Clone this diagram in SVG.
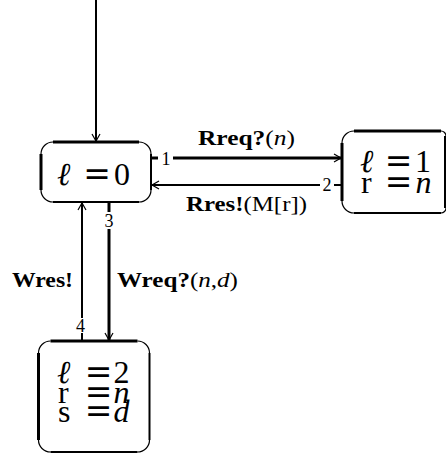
<svg xmlns="http://www.w3.org/2000/svg" width="446" height="454" viewBox="0 0 446 454">
<style>
.m{font-family:"Liberation Serif","DejaVu Serif",serif;font-size:32px;fill:#000}
.eq{font-family:"DejaVu Serif","Liberation Serif",serif;font-size:33px;fill:#000;text-anchor:middle}
.it{font-style:italic}
.lb{font-family:"Liberation Serif","DejaVu Serif",serif;font-size:20px;fill:#000}
.b{font-weight:bold}
.num{font-family:"Liberation Serif","DejaVu Serif",serif;font-size:18px;fill:#000;text-anchor:middle}
.thin{fill:none;stroke:#000;stroke-width:1.2}
.s3{stroke:#000;stroke-width:3;fill:none}
.s2{stroke:#000;stroke-width:2;fill:none}
</style>
<defs>
<marker id="ah" markerUnits="userSpaceOnUse" markerWidth="12" markerHeight="12" refX="8" refY="5" orient="auto">
<path d="M1,1 L8,5 L1,9" fill="none" stroke="#000" stroke-width="1.2"/>
</marker>
</defs>

<g id="n0">
<path class="thin" d="M41,154 A12,12 0 0 1 53,142 M139,142 A12,12 0 0 1 151,154 M151,190 A12,12 0 0 1 139,202 M53,202 A12,12 0 0 1 41,190"/>
<line class="s3" x1="53" y1="142" x2="139" y2="142"/>
<line class="s3" x1="41" y1="154" x2="41" y2="190"/>
<line class="s2" x1="151" y1="154" x2="151" y2="190"/>
<line class="s2" x1="53" y1="202" x2="139" y2="202"/>
<text class="m it" x="57" y="185">ℓ</text>
<text class="eq" x="97" y="185">=</text>
<text class="m" x="122" y="185" text-anchor="middle">0</text>
</g>

<g id="n1">
<path class="thin" d="M342,143 A12,12 0 0 1 354,131 M441,131 A5,5 0 0 1 446,136 M446,208 A5,5 0 0 1 441,213 M354,213 A12,12 0 0 1 342,201"/>
<line class="s3" x1="354" y1="131" x2="441" y2="131"/>
<line class="s3" x1="342" y1="143" x2="342" y2="201"/>
<line class="s2" x1="445" y1="136" x2="445" y2="208"/>
<line class="s2" x1="354" y1="213" x2="441" y2="213"/>
<text class="m it" x="360" y="172">ℓ</text>
<text class="eq" x="398.5" y="172">=</text>
<text class="m" x="423" y="172" text-anchor="middle">1</text>
<text class="m" x="361" y="193">r</text>
<text class="eq" x="398.5" y="193">=</text>
<text class="m it" x="423.5" y="193" text-anchor="middle">n</text>
</g>

<g id="n2">
<path class="thin" d="M38.5,353 A12,12 0 0 1 50.5,341 M137.5,341 A12,12 0 0 1 149.5,353 M149.5,440 A12,12 0 0 1 137.5,452 M50.5,452 A12,12 0 0 1 38.5,440"/>
<line class="s3" x1="50.5" y1="341" x2="137.5" y2="341"/>
<line class="s3" x1="38.5" y1="353" x2="38.5" y2="440"/>
<line class="s2" x1="149.5" y1="353" x2="149.5" y2="440"/>
<line class="s2" x1="50.5" y1="452" x2="137.5" y2="452"/>
<text class="m it" x="57" y="383">ℓ</text>
<text class="eq" x="98.5" y="383">=</text>
<text class="m" x="121.5" y="383" text-anchor="middle">2</text>
<text class="m" x="58" y="403">r</text>
<text class="eq" x="98.5" y="403">=</text>
<text class="m it" x="121.5" y="403" text-anchor="middle">n</text>
<text class="m" x="58" y="422">s</text>
<text class="eq" x="98.5" y="422">=</text>
<text class="m it" x="121.5" y="422" text-anchor="middle">d</text>
</g>

<g id="connectors">
<line class="s2" x1="96" y1="0" x2="96" y2="141" marker-end="url(#ah)"/>

<line class="s3" x1="151" y1="158" x2="158" y2="158"/>
<text class="num" x="166" y="165">1</text>
<line class="s3" x1="173" y1="158" x2="341" y2="158" marker-end="url(#ah)"/>
<text class="lb" x="198" y="145" textLength="97" lengthAdjust="spacingAndGlyphs"><tspan class="b">Rreq?</tspan>(<tspan class="it">n</tspan>)</text>

<line class="s2" x1="342" y1="185" x2="334" y2="185"/>
<text class="num" x="327" y="191">2</text>
<line class="s2" x1="320" y1="185" x2="152" y2="185" marker-end="url(#ah)"/>
<text class="lb" x="186" y="211" textLength="121" lengthAdjust="spacingAndGlyphs"><tspan class="b">Rres!</tspan>(M[r])</text>

<line class="s3" x1="109" y1="202" x2="109" y2="212"/>
<text class="num" x="109" y="227">3</text>
<line class="s3" x1="109" y1="229" x2="109" y2="340" marker-end="url(#ah)"/>
<text class="lb" x="117" y="287" textLength="121" lengthAdjust="spacingAndGlyphs"><tspan class="b">Wreq?</tspan>(<tspan class="it">n</tspan>,<tspan class="it">d</tspan>)</text>

<line class="s2" x1="82" y1="341" x2="82" y2="333"/>
<text class="num" x="80.5" y="332">4</text>
<line class="s2" x1="82" y1="318" x2="82" y2="203" marker-end="url(#ah)"/>
<text class="lb b" x="12" y="287" textLength="61" lengthAdjust="spacingAndGlyphs">Wres!</text>
</g>
</svg>
